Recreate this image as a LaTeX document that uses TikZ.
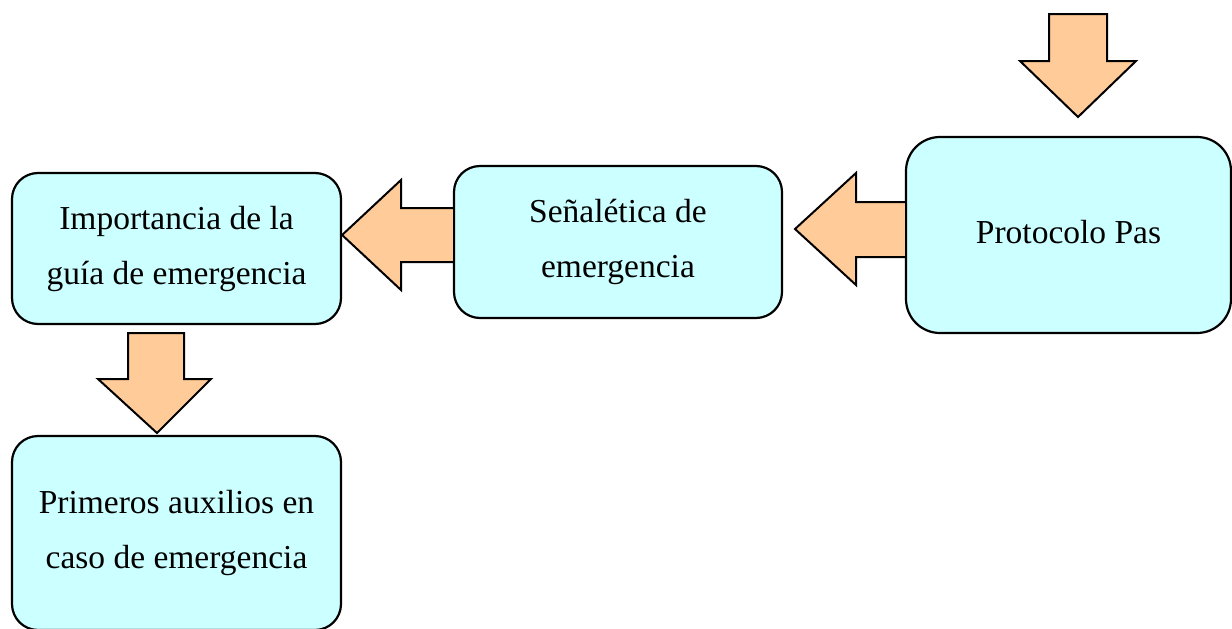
\documentclass[tikz,border=0pt]{standalone}
\usepackage{fontspec}
\setmainfont{Liberation Serif}
\begin{document}
\begin{tikzpicture}[x=1pt,y=-1pt,
  box/.style={draw=black,line width=2.2pt,fill=boxcyan,rounded corners=26pt,align=center,
    font=\fontsize{33.5}{55}\selectfont,inner sep=0pt},
  blockarrow/.style={draw=black,line width=2pt,fill=arrowpeach,line join=miter}]
\definecolor{boxcyan}{HTML}{CCFFFF}
\definecolor{arrowpeach}{HTML}{FFCC99}
\useasboundingbox (0,0) rectangle (1232,629);
% boxes
\node[box,minimum width=329pt,minimum height=151pt] (b1) at (176.5,248.5) {Importancia de la\\guía de emergencia};
\node[box,minimum width=328pt,minimum height=152pt] (b2) at (618,242) {Señalética de\\emergencia};
\node[box,minimum width=325pt,minimum height=196pt,rounded corners=34pt] (b3) at (1068.5,235) {\raisebox{6pt}{Protocolo Pas}};
\node[box,minimum width=329pt,minimum height=194pt] (b4) at (176.5,533) {Primeros auxilios en\\caso de emergencia};
% block arrows
\draw[blockarrow] (1049,14) -- (1107,14) -- (1107,61) -- (1136,61) -- (1078,117) -- (1020,61) -- (1049,61) -- cycle;
\draw[blockarrow] (b3.west |- 0,202) -- (856,202) -- (856,173) -- (795,229) -- (856,285) -- (856,257) -- (b3.west |- 0,257);
\draw[blockarrow] (b2.west |- 0,208) -- (401,208) -- (401,180) -- (b1.east |- 0,235) -- (401,290) -- (401,262) -- (b2.west |- 0,262);
\draw[blockarrow] (128,333) -- (184,333) -- (184,379) -- (211,379) -- (157,433) -- (98,379) -- (128,379) -- cycle;
\end{tikzpicture}
\end{document}
